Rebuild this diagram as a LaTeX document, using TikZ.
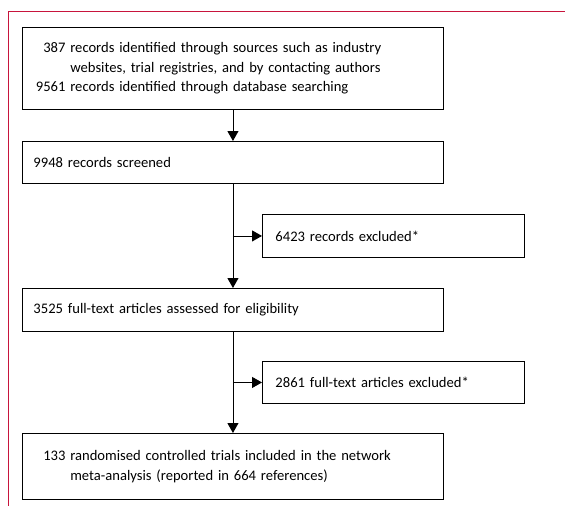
\documentclass[tikz,border=0pt]{standalone}
\usepackage{fontspec}
\setmainfont{Carlito}[WordSpace=0.7]
\usetikzlibrary{arrows.meta,positioning}
\definecolor{framered}{RGB}{200,20,60}
\newcommand{\numcol}[1]{\makebox[32pt][r]{#1}\ }

\begin{document}
\begin{tikzpicture}[x=1pt,y=-1pt,
    box/.style={draw,line width=0.9pt,anchor=north west,align=left,
      font=\fontsize{14.6}{19.5}\selectfont,inner xsep=11pt,inner ysep=0pt},
    flow/.style={line width=0.9pt,-{Triangle[length=10pt,width=11pt]}}]
    \useasboundingbox (0,0) rectangle (565,506);
    \draw[framered,line width=1pt] (8,506) -- (8,11) -- (565,11);

    \node[box,minimum width=421pt,minimum height=82pt,text width=399pt] (search) at (22,27)
      {\numcol{387}records identified through sources such as industry\\
       \numcol{}websites, trial registries, and by contacting authors\\
       \numcol{9561}records identified through database searching};
    \node[box,minimum width=421pt,minimum height=42pt,text width=399pt] (screened) at (22,141)
      {9948 records screened};
    \node[box,minimum width=260pt,minimum height=43pt,text width=236pt,inner xsep=13pt] (excl1) at (262,214)
      {6423 records excluded*};
    \node[box,minimum width=421pt,minimum height=43pt,text width=399pt] (fulltext) at (22,288)
      {3525 full-text articles assessed for eligibility};
    \node[box,minimum width=260pt,minimum height=42pt,text width=236pt,inner xsep=13pt] (excl2) at (262,361)
      {2861 full-text articles excluded*};
    \node[box,minimum width=421pt,minimum height=66pt,text width=399pt] (included) at (22,433)
      {\numcol{133}randomised controlled trials included in the network\\
       \numcol{}meta-analysis (reported in 664 references)};

    \draw[flow] (search) -- (screened);
    \draw[flow] (screened) -- (fulltext);
    \draw[flow] (screened.south |- excl1.west) -- (excl1.west);
    \draw[flow] (fulltext) -- (included);
    \draw[flow] (fulltext.south |- excl2.west) -- (excl2.west);
\end{tikzpicture}
\end{document}
